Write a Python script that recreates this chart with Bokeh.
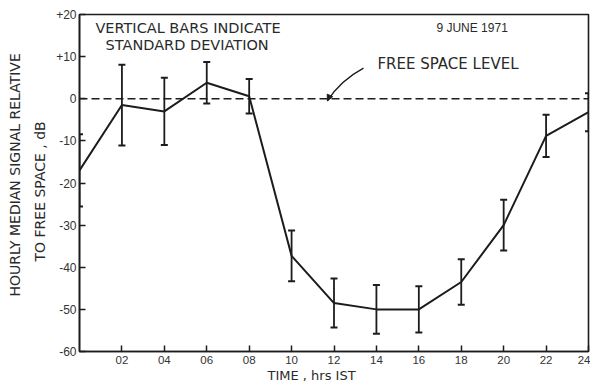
from bokeh.plotting import figure
from bokeh.models import (ColumnDataSource, Whisker, TeeHead, Span, Label, Title,
                          FixedTicker, Arrow, NormalHead, Range1d)
from bokeh.embed import file_html
from bokeh.resources import INLINE

# ---- data ----
hours = [0, 2, 4, 6, 8, 10, 12, 14, 16, 18, 20, 22, 24]
median_db = [-17.0, -1.5, -3.0, 3.8, 0.6, -37.3, -48.5, -50.0, -50.0, -43.5, -30.0, -8.8, -3.2]
std_db = [8.6, 9.6, 8.0, 4.9, 4.1, 6.0, 5.8, 5.8, 5.5, 5.4, 6.0, 5.0, 4.5]
x_ticks = [2, 4, 6, 8, 10, 12, 14, 16, 18, 20, 22, 24]
x_tick_labels = ["02", "04", "06", "08", "10", "12", "14", "16", "18", "20", "22", "24"]
y_ticks = [20, 10, 0, -10, -20, -30, -40, -50, -60]
y_tick_labels = ["+20", "+10", "0", "-10", "-20", "-30", "-40", "-50", "-60"]
free_space_level = 0

INK = "#1c1c1c"
TXT = "#2a2a2a"
FONT = "Liberation Sans"
WIDE = "DejaVu Sans"

upper = [m + s for m, s in zip(median_db, std_db)]
lower = [m - s for m, s in zip(median_db, std_db)]
src = ColumnDataSource(dict(hours=hours, median=median_db, upper=upper, lower=lower))

p = figure(width=590, height=381, output_backend="svg", toolbar_location=None,
           x_range=Range1d(0, 24), y_range=Range1d(-60, 20),
           min_border_left=79, min_border_right=2, min_border_top=14, min_border_bottom=26)
p.background_fill_color = "white"
p.border_fill_color = "white"
p.outline_line_color = INK
p.outline_line_width = 1.6
p.grid.visible = False

for ax in (p.xaxis[0], p.yaxis[0]):
    ax.axis_line_color = INK
    ax.axis_line_width = 1.6
    ax.major_tick_line_color = INK
    ax.major_tick_line_width = 1.5
    ax.minor_tick_line_color = None
    ax.major_tick_in = 6
    ax.major_tick_out = 0
    ax.major_label_text_font = FONT
    ax.major_label_text_color = "#333333"

p.yaxis.major_label_text_font_size = "12px"
p.xaxis.major_label_text_font_size = "11.5px"
p.xaxis.ticker = FixedTicker(ticks=x_ticks)
p.xaxis.major_label_overrides = {t: l for t, l in zip(x_ticks, x_tick_labels)}
p.xaxis.major_label_standoff = 4
p.yaxis.ticker = FixedTicker(ticks=y_ticks)
p.yaxis.major_label_overrides = {t: l for t, l in zip(y_ticks, y_tick_labels)}
p.yaxis.major_label_standoff = 3

# free space level
p.add_layout(Span(location=free_space_level, dimension="width", line_color=INK,
                  line_width=1.7, line_dash="8 4"))

# median curve and standard deviation bars
p.line("hours", "median", source=src, line_color=INK, line_width=2)
p.add_layout(Whisker(base="hours", upper="upper", lower="lower", source=src,
                     line_color=INK, line_width=1.8,
                     upper_head=TeeHead(size=7, line_color=INK, line_width=2),
                     lower_head=TeeHead(size=7, line_color=INK, line_width=2)))

# annotation texts inside the frame
def add_text(x, y, txt, size, font):
    p.add_layout(Label(x=x, y=y, text=txt, text_font=font, text_font_size=size,
                       text_color=TXT, text_align="left", text_baseline="middle"))

add_text(0.75, 16.7, "VERTICAL BARS INDICATE", "14.5px", WIDE)
add_text(1.23, 12.7, "STANDARD DEVIATION", "14.5px", WIDE)
add_text(16.83, 16.9, "9 JUNE 1971", "12px", FONT)
add_text(14.05, 8.2, "FREE SPACE LEVEL", "15px", WIDE)

# curved arrow pointing at the free-space line
arrow_start = (13.39, 7.26)
arrow_ctrl = (12.30, 4.31)
arrow_end = (11.69, -0.5)
p.quadratic(x0=[arrow_start[0]], y0=[arrow_start[1]], x1=[arrow_end[0]], y1=[arrow_end[1]],
            cx=[arrow_ctrl[0]], cy=[arrow_ctrl[1]], line_color=INK, line_width=1.4)
p.add_layout(Arrow(x_start=11.80, y_start=0.7, x_end=arrow_end[0], y_end=arrow_end[1],
                   line_color=INK, line_width=1.2,
                   end=NormalHead(size=6, fill_color=INK, line_color=INK)))

# axis titles (as side titles so they sit outside the frame)
def side_title(text, side, offset, standoff, size):
    p.add_layout(Title(text=text, align="left", offset=offset, standoff=standoff,
                       text_font=WIDE, text_font_size=size, text_font_style="normal",
                       text_color=TXT), side)

side_title("TO FREE SPACE , dB", "left", 90, 11, "14px")
side_title("HOURLY MEDIAN SIGNAL RELATIVE", "left", 55, 3, "14px")
side_title("TIME , hrs IST", "below", 188, -2, "13px")

open("out.html", "w").write(file_html(p, INLINE))
